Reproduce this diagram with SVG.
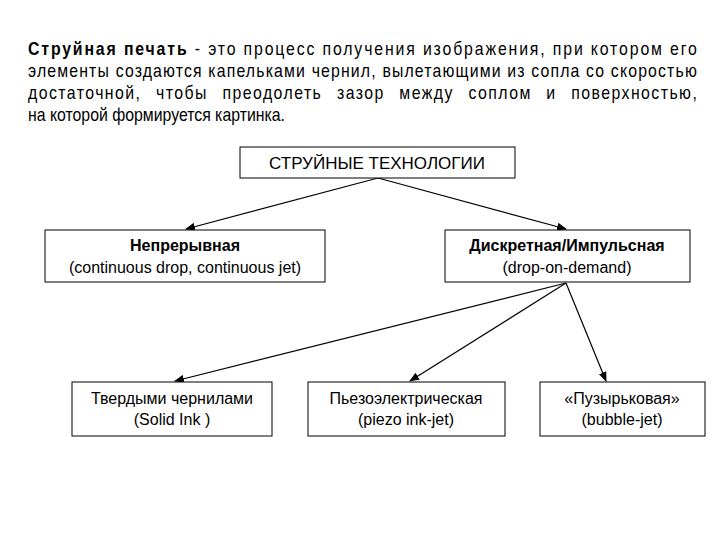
<svg xmlns="http://www.w3.org/2000/svg" width="720" height="540" viewBox="0 0 720 540">
<style>
text{font-family:"Liberation Sans",Arial,sans-serif;fill:#000}
.p{font-size:18px}
.n{font-size:16px;text-anchor:middle}
.b{font-weight:bold}
rect{fill:#fff;stroke:#000;stroke-width:1}
line{stroke:#000;stroke-width:1.2;marker-end:url(#a)}
</style>
<defs><marker id="a" markerWidth="10" markerHeight="8" refX="9" refY="4" orient="auto" markerUnits="userSpaceOnUse"><path d="M0,0 L10,4 L0,8 z" fill="#000"/></marker></defs>
<rect width="720" height="540" style="stroke:none"/>
<g id="para" transform="translate(28,0) scale(0.88,1)">
<text class="p" x="0" y="55" textLength="760" lengthAdjust="spacing"><tspan class="b">Струйная печать</tspan> - это процесс получения изображения, при котором его</text>
<text class="p" x="0" y="77" textLength="760" lengthAdjust="spacing">элементы создаются капельками чернил, вылетающими из сопла со скоростью</text>
<text class="p" x="0" y="99" textLength="760" lengthAdjust="spacing" style="word-spacing:10px">достаточной, чтобы преодолеть зазор между соплом и поверхностью,</text>
<text class="p" x="0" y="121">на которой формируется картинка.</text>
</g>
<g id="connectors">
<line x1="378" y1="178" x2="186" y2="229"/>
<line x1="378" y1="178" x2="566" y2="229"/>
<line x1="566" y1="283" x2="175" y2="381"/>
<line x1="566" y1="283" x2="410" y2="381"/>
<line x1="566" y1="283" x2="606" y2="381"/>
</g>
<g id="root"><rect x="240" y="147" width="275" height="31"/><text class="n" x="377" y="169" style="font-size:17px">СТРУЙНЫЕ ТЕХНОЛОГИИ</text></g>
<g id="cont"><rect x="45" y="230" width="280" height="52"/><text class="n b" x="185" y="251">Непрерывная</text><text class="n" x="185" y="273">(continuous drop, continuous jet)</text></g>
<g id="drop"><rect x="445" y="230" width="245" height="52"/><text class="n b" x="567" y="251">Дискретная/Импульсная</text><text class="n" x="567" y="273">(drop-on-demand)</text></g>
<g id="solid"><rect x="72" y="382" width="200" height="54"/><text class="n" x="172" y="404">Твердыми чернилами</text><text class="n" x="172" y="425">(Solid Ink )</text></g>
<g id="piezo"><rect x="308" y="382" width="197" height="54"/><text class="n" x="406" y="404">Пьезоэлектрическая</text><text class="n" x="406" y="425">(piezo ink-jet)</text></g>
<g id="bubble"><rect x="540" y="382" width="165" height="54"/><text class="n" x="622" y="404">«Пузырьковая»</text><text class="n" x="622" y="425">(bubble-jet)</text></g>
</svg>
